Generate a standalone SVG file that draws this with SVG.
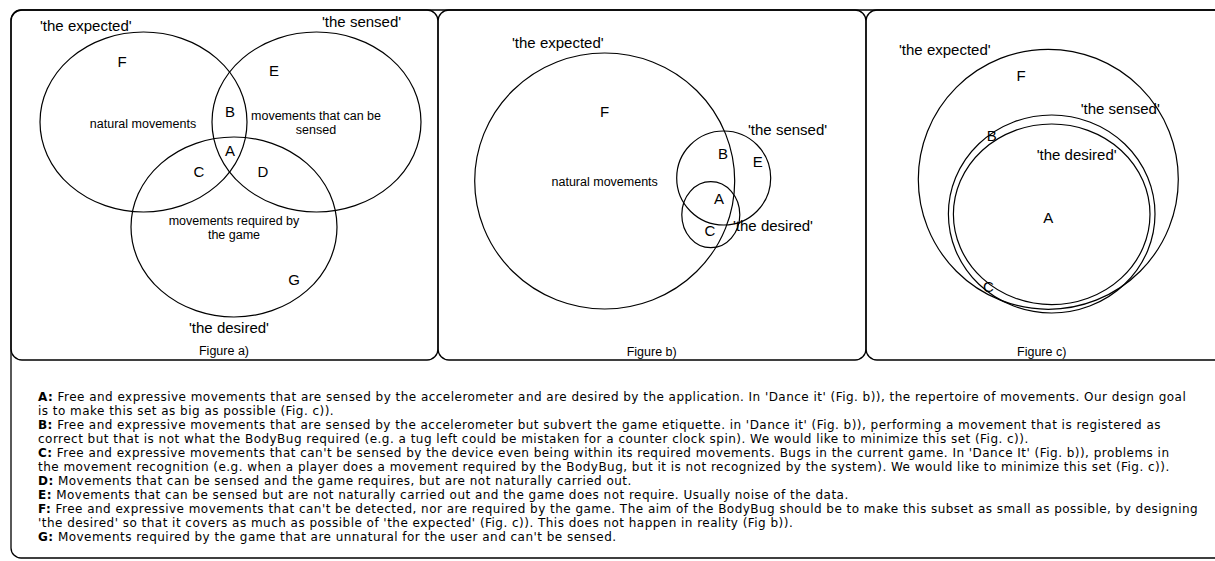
<svg xmlns="http://www.w3.org/2000/svg" width="1215" height="561" viewBox="0 0 1215 561">
<style>
.frame{fill:none;stroke:#000;stroke-width:1.3}
.set{fill:none;stroke:#000;stroke-width:1.2}
.lbl{font-family:"Liberation Sans",Arial,sans-serif;font-size:15px;fill:#000}
.sm{font-family:"Liberation Sans",Arial,sans-serif;font-size:12.5px;fill:#000}
.mid{text-anchor:middle}
.leg{font-family:"DejaVu Sans",Verdana,sans-serif;font-size:12px;letter-spacing:0.47px;fill:#000}
.b{font-weight:bold}
</style>
<rect width="1215" height="561" fill="#fff"/>
<g id="outer"><rect class="frame" x="11" y="10" width="1230" height="548" rx="10"/></g>
<g id="panel-a">
<rect class="frame" x="11" y="10" width="427" height="350" rx="11"/>
<ellipse class="set" cx="143.5" cy="122" rx="103.5" ry="90"/>
<ellipse class="set" cx="316.5" cy="122" rx="104.5" ry="90"/>
<ellipse class="set" cx="234" cy="227" rx="103" ry="90"/>
<text class="lbl" x="40" y="31">'the expected'</text>
<text class="lbl" x="322" y="27">'the sensed'</text>
<text class="lbl" x="189" y="333">'the desired'</text>
<text class="lbl mid" x="122" y="67">F</text>
<text class="lbl mid" x="274" y="76">E</text>
<text class="lbl mid" x="230" y="117">B</text>
<text class="lbl mid" x="230" y="156">A</text>
<text class="lbl mid" x="199" y="177">C</text>
<text class="lbl mid" x="263" y="177">D</text>
<text class="lbl mid" x="294" y="285">G</text>
<text class="sm mid" x="143" y="128">natural movements</text>
<text class="sm mid" x="316" y="120">movements that can be</text>
<text class="sm mid" x="316" y="134">sensed</text>
<text class="sm mid" x="234" y="225">movements required by</text>
<text class="sm mid" x="234" y="239">the game</text>
<text class="sm mid" x="224" y="355">Figure a)</text>
</g>
<g id="panel-b">
<rect class="frame" x="438" y="10" width="428" height="350" rx="11"/>
<ellipse class="set" cx="604.7" cy="181" rx="130" ry="128"/>
<circle class="set" cx="723.7" cy="178" r="47"/>
<ellipse class="set" cx="710.8" cy="214.7" rx="29" ry="33"/>
<text class="lbl" x="512" y="48">'the expected'</text>
<text class="lbl" x="748" y="135">'the sensed'</text>
<text class="lbl" x="733" y="231">'the desired'</text>
<text class="lbl mid" x="604.7" y="117">F</text>
<text class="sm mid" x="604.7" y="186">natural movements</text>
<text class="lbl mid" x="723" y="159">B</text>
<text class="lbl mid" x="757.7" y="167">E</text>
<text class="lbl mid" x="719" y="204">A</text>
<text class="lbl mid" x="710" y="236">C</text>
<text class="sm mid" x="651.7" y="356">Figure b)</text>
</g>
<g id="panel-c">
<rect class="frame" x="866" y="10" width="370" height="350" rx="11"/>
<circle class="set" cx="1048.3" cy="179.3" r="130"/>
<ellipse class="set" cx="1051.7" cy="214" rx="103.3" ry="99"/>
<ellipse class="set" cx="1051.7" cy="214.3" rx="98.3" ry="90.3"/>
<text class="lbl" x="899" y="55">'the expected'</text>
<text class="lbl mid" x="1021" y="81">F</text>
<text class="lbl" x="1080.7" y="114">'the sensed'</text>
<text class="lbl mid" x="991.7" y="141">B</text>
<text class="lbl" x="1036.7" y="160">'the desired'</text>
<text class="lbl mid" x="1048.3" y="223">A</text>
<text class="lbl mid" x="988.3" y="292">C</text>
<text class="sm mid" x="1041.7" y="356">Figure c)</text>
</g>
<g id="legend">
<text class="leg" x="38" y="401"><tspan class="b">A:</tspan> Free and expressive movements that are sensed by the accelerometer and are desired by the application. In 'Dance it' (Fig. b)), the repertoire of movements. Our design goal</text>
<text class="leg" x="38" y="415">is to make this set as big as possible (Fig. c)).</text>
<text class="leg" x="38" y="429"><tspan class="b">B:</tspan> Free and expressive movements that are sensed by the accelerometer but subvert the game etiquette. in 'Dance it' (Fig. b)), performing a movement that is registered as</text>
<text class="leg" x="38" y="443">correct but that is not what the BodyBug required (e.g. a tug left could be mistaken for a counter clock spin). We would like to minimize this set (Fig. c)).</text>
<text class="leg" x="38" y="457"><tspan class="b">C:</tspan> Free and expressive movements that can't be sensed by the device even being within its required movements. Bugs in the current game. In 'Dance It' (Fig. b)), problems in</text>
<text class="leg" x="38" y="471">the movement recognition (e.g. when a player does a movement required by the BodyBug, but it is not recognized by the system). We would like to minimize this set (Fig. c)).</text>
<text class="leg" x="38" y="485"><tspan class="b">D:</tspan> Movements that can be sensed and the game requires, but are not naturally carried out.</text>
<text class="leg" x="38" y="499"><tspan class="b">E:</tspan> Movements that can be sensed but are not naturally carried out and the game does not require. Usually noise of the data.</text>
<text class="leg" x="38" y="513"><tspan class="b">F:</tspan> Free and expressive movements that can't be detected, nor are required by the game. The aim of the BodyBug should be to make this subset as small as possible, by designing</text>
<text class="leg" x="38" y="527">'the desired' so that it covers as much as possible of 'the expected' (Fig. c)). This does not happen in reality (Fig b)).</text>
<text class="leg" x="38" y="541"><tspan class="b">G:</tspan> Movements required by the game that are unnatural for the user and can't be sensed.</text>
</g>
</svg>
